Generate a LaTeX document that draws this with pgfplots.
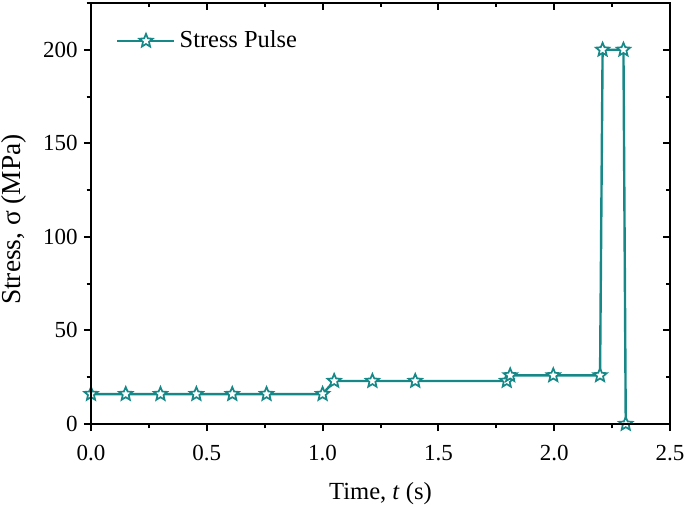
\documentclass[border=0pt]{standalone}
\usepackage{fontspec}
\setmainfont{Liberation Serif}
\usepackage{pgfplots}
\pgfplotsset{compat=1.18}
\definecolor{teal1}{RGB}{22,136,136}
\pgfdeclareplotmark{ostar}{%
  \pgfpathmoveto{\pgfpointpolar{90}{\pgfplotmarksize}}%
  \pgfpathlineto{\pgfpointpolar{126}{0.45\pgfplotmarksize}}%
  \pgfpathlineto{\pgfpointpolar{162}{\pgfplotmarksize}}%
  \pgfpathlineto{\pgfpointpolar{198}{0.45\pgfplotmarksize}}%
  \pgfpathlineto{\pgfpointpolar{234}{\pgfplotmarksize}}%
  \pgfpathlineto{\pgfpointpolar{270}{0.45\pgfplotmarksize}}%
  \pgfpathlineto{\pgfpointpolar{306}{\pgfplotmarksize}}%
  \pgfpathlineto{\pgfpointpolar{342}{0.45\pgfplotmarksize}}%
  \pgfpathlineto{\pgfpointpolar{18}{\pgfplotmarksize}}%
  \pgfpathlineto{\pgfpointpolar{54}{0.45\pgfplotmarksize}}%
  \pgfpathclose
  \pgfusepathqfillstroke
}
\begin{document}
\begin{tikzpicture}
\path[use as bounding box] (-45.5pt,-42pt) rectangle (297pt,212pt);
\pgfplotsset{
  common/.style={
    at={(0pt,0pt)}, anchor=south west,
    scale only axis,
    width=289.5pt, height=210.5pt,
    xmin=0, xmax=2.5, ymin=0, ymax=225,
    xtick={0,0.5,...,2.5}, ytick={0,50,...,200},
    minor xtick={0.25,0.75,...,2.25},
    minor ytick={25,75,...,225},
    axis line style={line width=1.1pt},
    major tick length=3.6pt, minor tick length=2.2pt,
    every tick/.style={line width=1pt, black},
  }
}
\begin{axis}[common,
  xtick pos=bottom, ytick pos=left, tick align=outside,
  /pgf/number format/assume math mode=true,
  xticklabel style={font=\fontsize{11.5}{14}\selectfont, yshift=-3.5pt, /pgf/number format/.cd, fixed, fixed zerofill, precision=1},
  yticklabel style={font=\fontsize{11.5}{14}\selectfont, xshift=0.5pt},
  xlabel={Time, \textit{t} (s)},
  ylabel={Stress, σ (MPa)},
  xlabel style={font=\fontsize{12.3}{14}\selectfont, at={(axis description cs:0.5,0)}, anchor=base, yshift=-37.5pt},
  ylabel style={font=\fontsize{13.7}{16}\selectfont, at={(axis description cs:0,0.5)}, anchor=center, yshift=38.5pt, xshift=-3pt},
  legend style={draw=none, fill=none, inner sep=0pt, at={(axis description cs:0.043,0.91)}, anchor=west, font=\fontsize{12.2}{14}\selectfont},
  legend image code/.code={\draw[mark repeat=2,mark phase=2] plot coordinates {(0pt,0pt)(14.25pt,0pt)(28.5pt,0pt)};},
]
\addplot[color=teal1, line width=1.2pt, mark=ostar, mark size=3.5pt, mark options={fill=white, line width=0.85pt, solid}]
coordinates {
(0,16)(0.15,16)(0.30,16)(0.455,16)(0.61,16)(0.758,16)(1.0,16)
(1.05,23)(1.215,23)(1.40,23)(1.795,23)
(1.81,26)(1.996,26)(2.198,26)
(2.209,200)(2.299,200)(2.309,0)
};
\addlegendentry{Stress Pulse}
\end{axis}
\begin{axis}[common,
  xtick pos=top, ytick pos=right, tick align=inside,
  xticklabels={}, yticklabels={},
]
\end{axis}
\end{tikzpicture}
\end{document}
